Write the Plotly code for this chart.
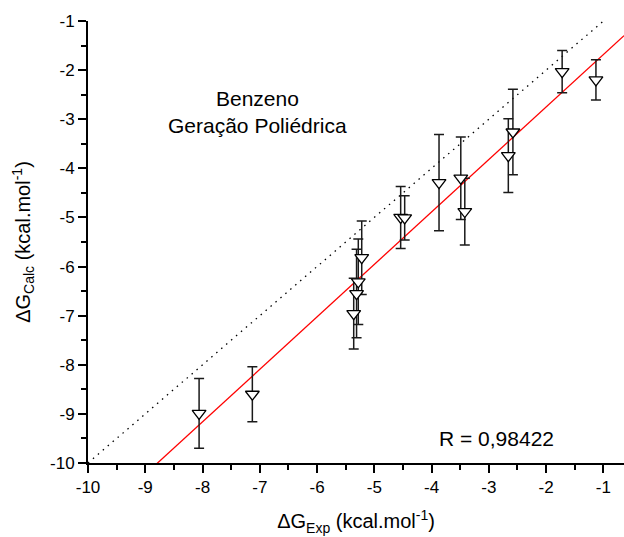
import numpy as np
import plotly.graph_objects as go

# Data
x_exp = [-8.06, -7.13, -5.36, -5.31, -5.28, -5.22, -4.54, -4.47, -3.87, -3.49, -3.42, -2.66, -2.58, -1.72, -1.13]
y_calc = [-8.99, -8.60, -6.96, -6.55, -6.31, -5.82, -5.00, -5.01, -4.29, -4.20, -4.88, -3.74, -3.26, -2.03, -2.20]
y_err = [0.71, 0.56, 0.72, 0.90, 0.87, 0.75, 0.63, 0.45, 0.98, 0.84, 0.68, 0.75, 0.87, 0.43, 0.41]

x_ticks = [-10, -9, -8, -7, -6, -5, -4, -3, -2, -1]
y_ticks = [-10, -9, -8, -7, -6, -5, -4, -3, -2, -1]
x_range = [-10, -0.64]
y_range = [-10, -1]
ideal_line = [-10, -1]

title_lines = ["Benzeno", "Geração Poliédrica"]
r_text = "R = 0,98422"

# linear fit (red line)
slope, intercept = np.polyfit(x_exp, y_calc, 1)
fit_x = np.array(x_range)
fit_y = slope * fit_x + intercept

FONT = "Arial, 'Liberation Sans', sans-serif"

fig = go.Figure()

fig.add_trace(go.Scatter(
    x=ideal_line, y=ideal_line, mode="lines",
    line=dict(color="black", width=1.3, dash="1.5px,5px"),
    showlegend=False, hoverinfo="skip"))

fig.add_trace(go.Scatter(
    x=fit_x, y=fit_y, mode="lines",
    line=dict(color="#ff0000", width=1.3),
    showlegend=False, hoverinfo="skip"))

fig.add_trace(go.Scatter(
    x=x_exp, y=y_calc, mode="markers",
    marker=dict(symbol="triangle-down", size=12, color="white",
                line=dict(color="black", width=1.3)),
    error_y=dict(type="data", array=y_err, visible=True,
                 color="#1a1a1a", thickness=1.5, width=5),
    showlegend=False))

axis_common = dict(
    showline=True, linecolor="black", linewidth=2,
    ticks="outside", ticklen=8, tickwidth=1.5, tickcolor="black",
    showgrid=False, zeroline=False,
    tickfont=dict(family=FONT, size=17, color="black"),
    minor=dict(ticks="outside", ticklen=5, tickwidth=1.5, tickcolor="black", dtick=0.5, showgrid=False),
)

fig.update_xaxes(range=x_range, tickvals=x_ticks, ticktext=[str(v) for v in x_ticks],
                 title=dict(text="ΔG<sub>Exp</sub> (kcal.mol<sup>-1</sup>)",
                            font=dict(family=FONT, size=20, color="black"), standoff=18),
                 **axis_common)
fig.update_yaxes(range=y_range, tickvals=y_ticks, ticktext=[str(v) for v in y_ticks],
                 title=dict(text="ΔG<sub>Calc</sub> (kcal.mol<sup>-1</sup>)",
                            font=dict(family=FONT, size=20, color="black"), standoff=14),
                 **axis_common)

fig.add_annotation(x=-7.04, y=-2.57, xref="x", yref="y", text=title_lines[0],
                   showarrow=False, font=dict(family=FONT, size=21, color="black"))
fig.add_annotation(x=-7.04, y=-3.12, xref="x", yref="y", text=title_lines[1],
                   showarrow=False, font=dict(family=FONT, size=21, color="black"))
fig.add_annotation(x=-2.875, y=-9.51, xref="x", yref="y", text=r_text,
                   showarrow=False, font=dict(family=FONT, size=21, color="black"))

fig.update_layout(
    width=624, height=537,
    margin=dict(l=88, r=0, t=21, b=74),
    plot_bgcolor="white", paper_bgcolor="white",
    font=dict(family=FONT, color="black"),
)

fig.write_html("out.html")
